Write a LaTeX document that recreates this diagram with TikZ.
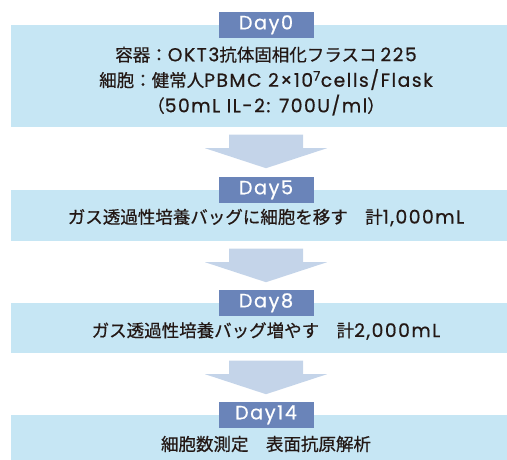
\documentclass[tikz,border=0pt]{standalone}
\usepackage{fontspec}
\setmainfont{Noto Sans CJK JP}[FakeBold=0.6]
\newfontfamily\latinfont{Poppins}[LetterSpace=8, Scale=1.07, FakeBold=0.6]
\newcommand{\lt}[1]{{\latinfont #1}}
\usetikzlibrary{positioning}

\definecolor{boxblue}{HTML}{C6E6F4}
\definecolor{dayblue}{HTML}{6A84B9}
\definecolor{arrowblue}{HTML}{C4D4E9}
\definecolor{inkgray}{HTML}{231815}

\tikzset{
  stagebox/.style={fill=boxblue, minimum width=510pt, inner sep=0pt},
  stagetext/.style={text=inkgray, align=center, inner sep=0pt,
    font=\fontsize{17.5}{25.5}\selectfont},
  daytag/.style={fill=dayblue, minimum width=95pt, minimum height=26pt, inner sep=0pt,
    text=white, font=\fontsize{18}{20}\latinfont},
  flowarrow/.style={fill=arrowblue},
}

\begin{document}
\begin{tikzpicture}[x=1pt, y=-1pt]
        \useasboundingbox (0,0) rectangle (507,459);
        \clip (0,0) rectangle (507,459);
        % stage boxes
        \node[stagebox, minimum height=102pt] (b0) at (266,76) {};
        \node[stagebox, minimum height=51pt] (b5) at (266,215.5) {};
        \node[stagebox, minimum height=50pt] (b8) at (266,328) {};
        \node[stagebox, minimum height=52pt] (b14) at (266,441) {};
        % box texts
        \node[stagetext] (t0) at ([yshift=-5pt]b0.center)
            {容器：\lt{OKT3}抗体固相化フラスコ \lt{225}\\
             細胞：健常人\lt{PBMC 2×10\textsuperscript{7}cells/Flask}\\
             （\lt{50mL IL-2: 700U/ml}）};
        \node[stagetext] (t5) at ([yshift=-2pt]b5.center)
            {ガス透過性培養バッグに細胞を移す　計\lt{1,000mL}};
        \node[stagetext] (t8) at ([yshift=-3pt]b8.center)
            {ガス透過性培養バッグ増やす　計\lt{2,000mL}};
        \node[stagetext] (t14) at ([yshift=-3pt]b14.center)
            {細胞数測定　表面抗原解析};
        % day tags
        \node[daytag] (d0) at (b0.north) {Day0};
        \node[daytag] (d5) at (b5.north) {Day5};
        \node[daytag] (d8) at (b8.north) {Day8};
        \node[daytag] (d14) at (b14.north) {Day14};
        % block arrows
        \foreach \n in {b0,b5,b8} {
            \fill[flowarrow, shift={(\n.south)}] (-37,7.5) -- (37,7.5) -- (37,21) -- (61,21)
                -- (0,41) -- (-61,21) -- (-37,21) -- cycle;
        }
\end{tikzpicture}
\end{document}
